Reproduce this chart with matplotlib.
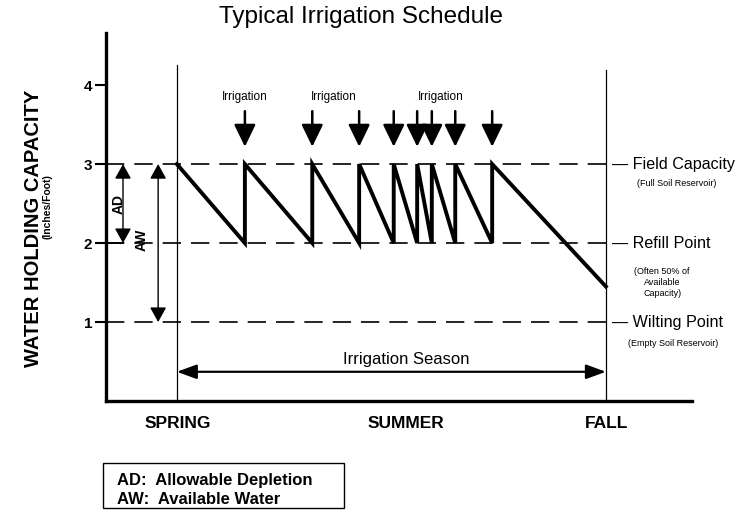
import matplotlib
matplotlib.use('Agg')
import matplotlib.pyplot as plt
from matplotlib.patches import Rectangle

plt.rcParams['font.family'] = ['Liberation Sans', 'DejaVu Sans']

# ---- data ----
title = "Typical Irrigation Schedule"
y_ticks = [1, 2, 3, 4]
field_capacity = 3
refill_point = 2
wilting_point = 1
spring_x = 12.1
fall_x = 85.3
irrigation_x = [23.7, 35.2, 43.2, 49.1, 53.1, 55.6, 59.6, 65.9]
saw_x = [12.1, 23.7, 23.7, 35.2, 35.2, 43.2, 43.2, 49.1, 49.1, 53.1, 53.1,
         55.6, 55.6, 59.6, 59.6, 65.9, 65.9, 85.3]
saw_y = [3, 2, 3, 2, 3, 2, 3, 2, 3, 2, 3, 2, 3, 2, 3, 2, 3, 1.45]
irrigation_label_x = [23.7, 38.9, 57.2]
season_labels = ['SPRING', 'SUMMER', 'FALL']
season_label_x = [12.3, 51.2, 85.5]
level_labels = ['Field Capacity', 'Refill Point', 'Wilting Point']
level_values = [3, 2, 1]
level_notes = ['(Full Soil Reservoir)', '(Often 50% of\nAvailable\nCapacity)',
               '(Empty Soil Reservoir)']
legend_lines = ['AD:  Allowable Depletion', 'AW:  Available Water']

W, H = 739, 511
fig = plt.figure(figsize=(W / 100, H / 100), dpi=100)
ax = fig.add_axes([106 / W, (H - 401) / H, 586 / W, 368 / H])
ax.set_xlim(0, 100)
ax.set_ylim(0, 4.66)

for s in ['top', 'right']:
    ax.spines[s].set_visible(False)
ax.spines['left'].set_linewidth(2.4)
ax.spines['bottom'].set_linewidth(2.4)
ax.set_xticks([])
ax.set_yticks(y_ticks)
ax.set_yticklabels([str(t) for t in y_ticks], fontsize=11, fontweight='bold')
ax.tick_params(axis='y', length=8, width=1.5, pad=2)

# dashed reference levels
for lv in level_values:
    ax.plot([0, fall_x], [lv, lv], color='black', lw=1.2,
            linestyle=(0, (11, 6)), clip_on=False)

# spring / fall vertical lines
ax.plot([spring_x, spring_x], [0, 4.25], color='black', lw=0.9, clip_on=False)
ax.plot([fall_x, fall_x], [0, 4.19], color='black', lw=0.9, clip_on=False)

# sawtooth
ax.plot(saw_x, saw_y, color='black', lw=2.8, solid_joinstyle='miter', clip_on=False)

# irrigation arrows
for x in irrigation_x:
    ax.annotate('', xy=(x, 3.22), xytext=(x, 3.67),
                arrowprops=dict(arrowstyle='-|>,head_length=0.68,head_width=0.33',
                                lw=1.8, color='black', mutation_scale=20,
                                shrinkA=0, shrinkB=0))
for x in irrigation_label_x:
    ax.text(x, 3.85, 'Irrigation', ha='center', va='center', fontsize=8.5)

# AD / AW arrows
ax.plot([0, 2.9], [refill_point, refill_point], color='black', lw=1.3)
ax.annotate('', xy=(2.9, refill_point), xytext=(2.9, field_capacity),
            arrowprops=dict(arrowstyle='<|-|>,head_length=0.45,head_width=0.25',
                            lw=1.0, color='black', mutation_scale=20,
                            shrinkA=0, shrinkB=0))
ax.annotate('', xy=(8.9, wilting_point), xytext=(8.9, field_capacity),
            arrowprops=dict(arrowstyle='<|-|>,head_length=0.45,head_width=0.25',
                            lw=1.0, color='black', mutation_scale=20,
                            shrinkA=0, shrinkB=0))
ax.text(2.1, 2.5, 'AD', rotation=90, ha='center', va='center',
        fontsize=10, fontweight='bold')
ax.text(6.1, 2.04, 'AW', rotation=90, ha='center', va='center',
        fontsize=10, fontweight='bold')

# irrigation season arrow
ax.annotate('', xy=(fall_x, 0.37), xytext=(spring_x, 0.37),
            arrowprops=dict(arrowstyle='<|-|>,head_length=0.6,head_width=0.22',
                            lw=1.6, color='black', mutation_scale=20,
                            shrinkA=0, shrinkB=0))
ax.text(51.2, 0.53, 'Irrigation Season', ha='center', va='center', fontsize=12)

# right labels
note_y = [2.76, 1.50, 0.73]
note_x = [97.4, 94.9, 96.8]
for lab, lv, note, ny, nx in zip(level_labels, level_values, level_notes, note_y, note_x):
    ax.text(86.3, lv, '\u2014 ' + lab, ha='left', va='center', fontsize=11.6,
            clip_on=False)
    ax.text(nx, ny, note, ha='center', va='center', fontsize=6.5,
            linespacing=1.35, clip_on=False)

# season labels
for lab, x in zip(season_labels, season_label_x):
    ax.text(x, -0.29, lab, ha='center', va='center', fontsize=12.5,
            fontweight='bold', clip_on=False)

# title and y label
fig.text(361 / W, (H - 17) / H, title, ha='center', va='center', fontsize=17.5)
fig.text(34 / W, (H - 228) / H, 'WATER HOLDING CAPACITY', rotation=90,
         ha='center', va='center', fontsize=14.5, fontweight='bold')
fig.text(47.5 / W, (H - 207) / H, '(Inches/Foot)', rotation=90,
         ha='center', va='center', fontsize=7.5, fontweight='bold')

# legend box
fig.patches.append(Rectangle((103 / W, (H - 508) / H), 241 / W, 45 / H,
                             transform=fig.transFigure, fill=False,
                             edgecolor='black', lw=1.0))
fig.text(117 / W, (H - 480) / H, legend_lines[0], ha='left', va='center',
         fontsize=12, fontweight='bold')
fig.text(117 / W, (H - 499) / H, legend_lines[1], ha='left', va='center',
         fontsize=12, fontweight='bold')

fig.savefig('out.png', dpi=100)
